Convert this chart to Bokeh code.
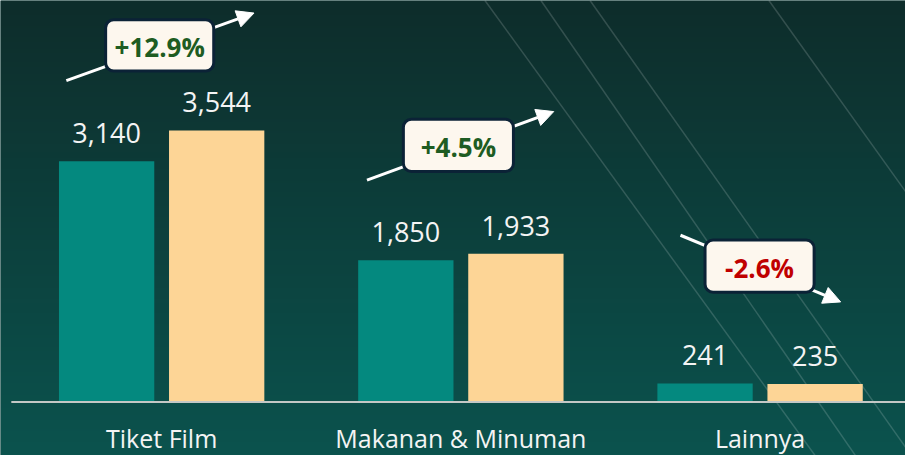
import numpy as np
from bokeh.plotting import figure
from bokeh.models import Range1d, Label, Arrow, NormalHead, BoxAnnotation
from bokeh.core.properties import value
from bokeh.embed import file_html
from bokeh.resources import INLINE

# ---------------- data ----------------
categories = ["Tiket Film", "Makanan & Minuman", "Lainnya"]
values_prev = [3140, 1850, 241]
values_curr = [3544, 1933, 235]
change_labels = ["+12.9%", "+4.5%", "-2.6%"]
change_colors = ["#1e5c22", "#1e5c22", "#c00000"]

# ---------------- layout ----------------
W, H = 905, 455
REF_W, REF_H = 921, 471
SX = W / REF_W
SY = H / REF_H
GROUP_PX = 304.5 * SX          # pixels between group centres
FIRST_X = 164 * SX             # px of the first group centre
ZERO_Y = 415.5 * SY            # px (from top) of the zero line
VAL_PER_PX = 12.61 / SY        # data units per pixel (vertical)
BAR_W = 97 * SX / GROUP_PX
DODGE = 56 * SX / GROUP_PX

x_start = -FIRST_X / GROUP_PX
x_end = (W - FIRST_X) / GROUP_PX
y_start = -(H - ZERO_Y) * VAL_PER_PX
y_end = ZERO_Y * VAL_PER_PX


def wx(px):
    """reference-image pixel x -> data x"""
    return (px * SX - FIRST_X) / GROUP_PX


def wy(py):
    """reference-image pixel y -> data y"""
    return (ZERO_Y - py * SY) * VAL_PER_PX


p = figure(width=W, height=H, output_backend="svg", toolbar_location=None,
           x_range=Range1d(x_start, x_end), y_range=Range1d(y_start, y_end),
           min_border=0, x_axis_location=None, y_axis_location=None)
p.grid.visible = False
p.outline_line_color = None
p.background_fill_color = "#0d3f3b"
p.border_fill_color = "#0d3f3b"

# background vertical gradient
n = 200
img = np.empty((n, 2), dtype=np.uint32)
view = img.view(dtype=np.uint8).reshape((n, 2, 4))
top = np.array([14, 45, 43])
bot = np.array([11, 83, 78])
for i in range(n):
    t = i / (n - 1)
    c = bot * (1 - t) + top * t
    view[i, :, 0] = int(c[0])
    view[i, :, 1] = int(c[1])
    view[i, :, 2] = int(c[2])
    view[i, :, 3] = 255
p.image_rgba(image=[img], x=x_start, y=y_start, dw=x_end - x_start, dh=y_end - y_start)

# decorative diagonal lines
deco_x0 = [782, 600, 550, 493]
deco_x1 = [1000, 927, 870, 829]
deco_y1 = [310, 471, 471, 471]
p.segment(x0=[wx(v) for v in deco_x0], y0=[wy(0)] * 4,
          x1=[wx(v) for v in deco_x1], y1=[wy(v) for v in deco_y1],
          line_color="white", line_alpha=0.16, line_width=1.5)

# bars
idx = np.arange(len(categories))
p.vbar(x=idx - DODGE, top=values_prev, width=BAR_W, bottom=0,
       fill_color="#04897f", line_color=None)
p.vbar(x=idx + DODGE, top=values_curr, width=BAR_W, bottom=0,
       fill_color="#fdd596", line_color=None)

# baseline
p.segment(x0=[wx(11)], y0=[0], x1=[x_end], y1=[0], line_color="#c4c8c6", line_width=2)

# value labels
lab_off = 28 * VAL_PER_PX
p.text(x=list(idx - DODGE) + list(idx + DODGE),
       y=[v + lab_off for v in values_prev + values_curr],
       text=[f"{v:,}" for v in values_prev + values_curr],
       text_align="center", text_baseline="alphabetic",
       text_font=value("Open Sans"), text_font_size="27px", text_color="#f4f4f4")

# category labels
p.text(x=list(idx), y=[(ZERO_Y - 437) * VAL_PER_PX] * 3, text=categories,
       text_align="center", text_baseline="alphabetic",
       text_font=value("Open Sans"), text_font_size="25px", text_color="#f4f4f4")

# change annotations (reference pixel layout)
arrows = [((67, 83), (258, 13)), ((373, 186), (563, 115)), ((692, 243), (855, 312))]
boxes = [(107, 20, 217, 73), (410, 123, 522, 177), (717, 248, 828, 302)]
for (a0, a1) in arrows:
    p.add_layout(Arrow(x_start=wx(a0[0]), y_start=wy(a0[1]), x_end=wx(a1[0]), y_end=wy(a1[1]),
                       line_color="white", line_width=3,
                       end=NormalHead(size=17, fill_color="white", line_color="white", line_width=1)))
for (l, t, r, b) in boxes:
    p.add_layout(BoxAnnotation(left=wx(l), right=wx(r), top=wy(t), bottom=wy(b),
                               fill_color="#fdf7ee", fill_alpha=1.0,
                               line_color="#0b2236", line_width=3, line_alpha=1.0,
                               border_radius=8))
for (l, t, r, b), txt, col in zip(boxes, change_labels, change_colors):
    p.add_layout(Label(x=wx((l + r) / 2), y=wy((t + b) / 2 + 2), text=txt,
                       text_align="center", text_baseline="middle",
                       text_font="Open Sans", text_font_style="bold",
                       text_font_size="26px", text_color=col))

open("out.html", "w").write(file_html(p, INLINE))
